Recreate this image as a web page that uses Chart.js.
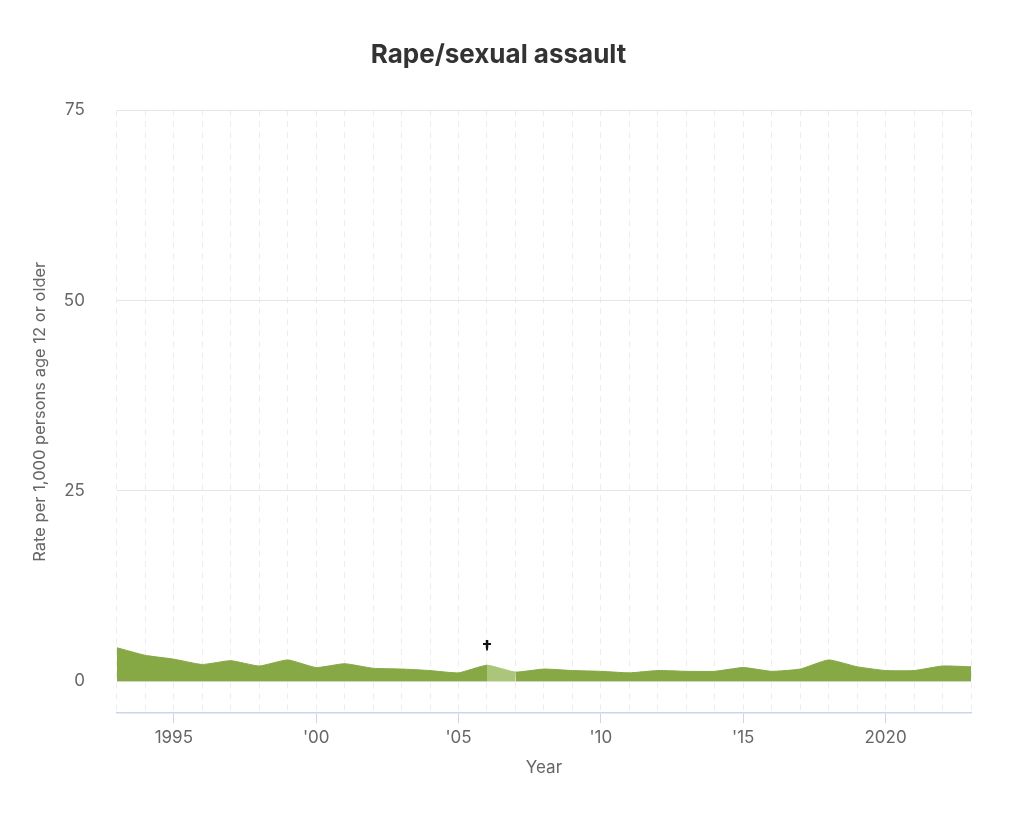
<!DOCTYPE html>
<html>
<head>
<meta charset="utf-8">
<script src="https://cdn.jsdelivr.net/npm/chart.js@4.4.1/dist/chart.umd.min.js"></script>
<style>
  html,body{margin:0;padding:0;background:#fff;}
  #wrap{width:1024px;height:823px;}
</style>
</head>
<body>
<div id="wrap"><canvas id="chart"></canvas></div>
<script>
// --- Data ---
const years = [1993,1994,1995,1996,1997,1998,1999,2000,2001,2002,2003,2004,2005,2006,2007,2008,2009,2010,2011,2012,2013,2014,2015,2016,2017,2018,2019,2020,2021,2022,2023];
const rates = [4.4,3.4,2.9,2.2,2.7,2.0,2.8,1.8,2.3,1.7,1.6,1.4,1.1,2.1,1.2,1.6,1.4,1.3,1.1,1.4,1.3,1.3,1.8,1.3,1.6,2.8,1.9,1.4,1.4,2.0,1.9];
const yTicks = [0,25,50,75];
const xTickYears = [1995,2000,2005,2010,2015,2020];
const xTickLabels = ['1995',"'00","'05","'10","'15",'2020'];
const flagYear = 2006; // not comparable, marked with a dagger

const green = '#86a845';
const lightGreen = '#abc57a';
const font = "Inter, 'Liberation Sans', Arial, sans-serif";

// --- Dagger marker above the flagged year ---
const daggerPlugin = {
  id: 'dagger',
  afterDatasetsDraw(chart){
    const c = chart.ctx;
    const i = years.indexOf(flagYear);
    const pt = chart.getDatasetMeta(0).data[i];
    c.save();
    c.fillStyle = '#111';
    c.font = 'bold 19px ' + font;
    c.textAlign = 'center';
    c.textBaseline = 'middle';
    c.fillText('\u2020', pt.x, pt.y - 17);
    c.restore();
  }
};

const ctx = document.getElementById('chart').getContext('2d');
new Chart(ctx, {
  type: 'line',
  data: {
    datasets: [{
      data: years.map((y,i)=>({x:y, y:rates[i]})),
      fill: 'origin',
      backgroundColor: green,
      borderColor: green,
      borderWidth: 1,
      pointRadius: 0,
      tension: 0.15,
      segment: {
        backgroundColor: c => c.p0.parsed.x === flagYear ? lightGreen : undefined,
        borderColor: c => c.p0.parsed.x === flagYear ? lightGreen : undefined
      }
    }]
  },
  options: {
    responsive: true,
    maintainAspectRatio: false,
    animation: false,
    layout: { padding: { left: 26, right: 53, top: 0, bottom: 45 } },
    plugins: {
      legend: { display: false },
      tooltip: { enabled: false },
      title: {
        display: true,
        text: 'Rape/sexual assault',
        color: '#333',
        font: { family: font, size: 26, weight: 'bold' },
        padding: { top: 40, bottom: 39 }
      }
    },
    scales: {
      x: {
        type: 'linear',
        min: 1993, max: 2023,
        afterBuildTicks: s => { s.ticks = years.map(v=>({value:v})); },
        ticks: {
          autoSkip: false,
          maxRotation: 0,
          color: '#666',
          font: { family: font, size: 17 },
          padding: 4,
          callback: v => { const k = xTickYears.indexOf(v); return k >= 0 ? xTickLabels[k] : ''; }
        },
        grid: {
          color: '#ededed',
          lineWidth: 1,
          tickLength: 10,
          tickColor: c => xTickYears.includes(c.tick && c.tick.value) ? '#ccd6eb' : 'rgba(0,0,0,0)'
        },
        border: { color: '#ccd6eb', width: 1.5, dash: [6,5] },
        title: {
          display: true, text: 'Year', color: '#666',
          font: { family: font, size: 17 }, padding: { top: 6, bottom: 0 }
        }
      },
      y: {
        min: -4.2, max: 75,
        afterBuildTicks: s => { s.ticks = yTicks.map(v=>({value:v})); },
        ticks: {
          color: '#666',
          font: { family: font, size: 17 },
          padding: 10
        },
        grid: {
          color: '#e6e6e6',
          tickLength: 22,
          tickColor: 'rgba(0,0,0,0)'
        },
        border: { display: false },
        title: {
          display: true, text: 'Rate per 1,000 persons age 12 or older', color: '#666',
          font: { family: font, size: 16.5 }, padding: { top: 4, bottom: 4 }
        }
      }
    }
  },
  plugins: [daggerPlugin]
});
</script>
</body>
</html>
